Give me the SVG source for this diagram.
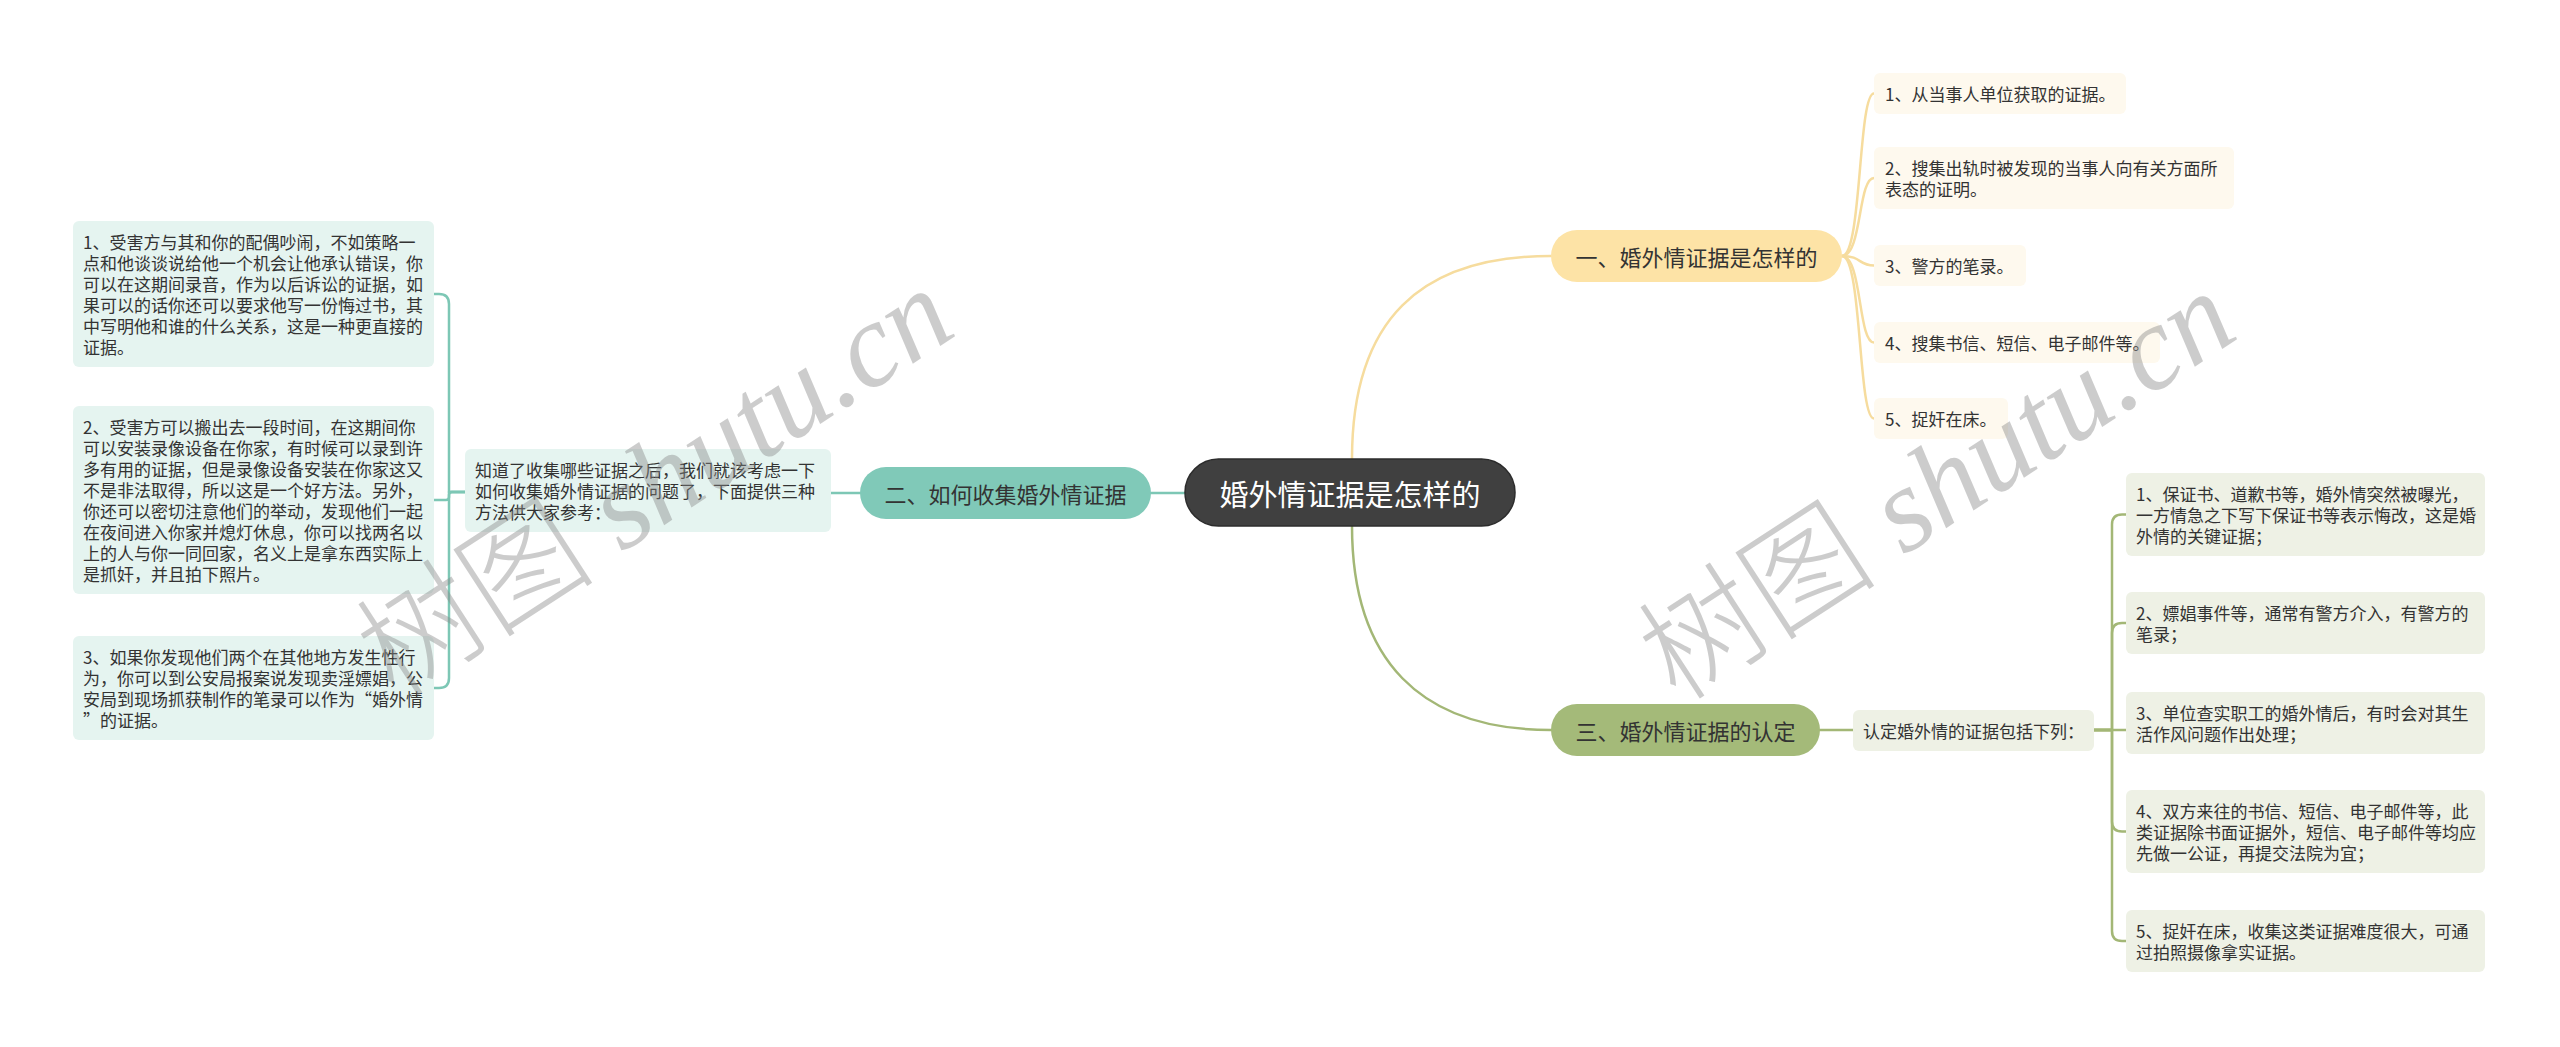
<svg xmlns="http://www.w3.org/2000/svg" width="2560" height="1047" viewBox="0 0 2560 1047">
<style>
.t{font-family:"Noto Sans CJK SC","Noto Sans",sans-serif;fill:#333;dominant-baseline:central}
.lf{font-size:17px}
.br{font-size:22px}
.ct{font-size:29px;fill:#fff}
.c{fill:none;stroke-linecap:round;stroke-linejoin:round}
.cy{stroke:#f6dc9e;stroke-width:2.5}
.cg{stroke:#a3b776;stroke-width:2.5}
.ctl{stroke:#7dc7b5;stroke-width:2.5}
.ny{fill:#fde3a6}
.ng{fill:#a4ba79}
.nt{fill:#80c9b8}
.ly{fill:#fef9ee}
.lt{fill:#e5f4f0}
.lg{fill:#eef1e5}
.wm{fill:#888;opacity:0.42;font-size:120px}
</style>
<rect width="2560" height="1047" fill="#fff"/>
<g id="connectors">
<path class="c cy" d="M1352 459 C1352 320 1420 256 1551 256"/>
<path class="c cg" d="M1352 526 C1352 660 1420 730 1551 730"/>
<path class="c ctl" d="M1185 493 H1151"/>
<path class="c ctl" d="M860 493 H831"/>
<path class="c ctl" d="M465 492 H449 V304 Q449 294 439 294 H434"/>
<path class="c ctl" d="M465 492 H452 Q449 492 449 495 V497 Q449 500 446 500 H434"/>
<path class="c ctl" d="M465 492 H449 V678 Q449 688 439 688 H434"/>
<path class="c cy" d="M1842 256 C1862 256 1858 93.5 1874 93.5"/>
<path class="c cy" d="M1842 256 C1862 256 1858 178 1874 178"/>
<path class="c cy" d="M1842 256 C1862 256 1858 265.5 1874 265.5"/>
<path class="c cy" d="M1842 256 C1862 256 1858 342.5 1874 342.5"/>
<path class="c cy" d="M1842 256 C1862 256 1858 418.5 1874 418.5"/>
<path class="c cg" d="M1820 730 H1853"/>
<path class="c cg" d="M2094 730 H2112 V524.5 Q2112 514.5 2122 514.5 H2126"/>
<path class="c cg" d="M2094 730 H2112 V633 Q2112 623 2122 623 H2126"/>
<path class="c cg" d="M2094 730 H2126"/>
<path class="c cg" d="M2094 730 H2112 V821.5 Q2112 831.5 2122 831.5 H2126"/>
<path class="c cg" d="M2094 730 H2112 V931 Q2112 941 2122 941 H2126"/>
</g>
<g id="center">
<rect x="1185" y="459" width="330" height="67" rx="33.5" fill="#404040" stroke="#2c2c2c" stroke-width="1.5"/>
<text class="t ct" x="1350" y="492.5" text-anchor="middle">婚外情证据是怎样的</text>
</g>
<g id="branch1">
<rect class="ny" x="1551" y="230" width="291" height="52" rx="26"/>
<text class="t br" x="1696.5" y="256" text-anchor="middle">一、婚外情证据是怎样的</text>
</g>
<g id="branch2">
<rect class="nt" x="860" y="467" width="291" height="52" rx="26"/>
<text class="t br" x="1005.5" y="493" text-anchor="middle">二、如何收集婚外情证据</text>
</g>
<g id="branch3">
<rect class="ng" x="1551" y="704" width="269" height="52" rx="26"/>
<text class="t br" x="1685.5" y="730" text-anchor="middle">三、婚外情证据的认定</text>
</g>
<g id="b1-1">
<rect class="ly" x="1874" y="73" width="252" height="41" rx="6"/>
<text class="t lf" x="1885" y="93.5">1、从当事人单位获取的证据。</text>
</g>
<g id="b1-2">
<rect class="ly" x="1874" y="147" width="360" height="62" rx="6"/>
<text class="t lf" x="1885" y="167.5">2、搜集出轨时被发现的当事人向有关方面所</text>
<text class="t lf" x="1885" y="188.5">表态的证明。</text>
</g>
<g id="b1-3">
<rect class="ly" x="1874" y="245" width="152" height="41" rx="6"/>
<text class="t lf" x="1885" y="265.5">3、警方的笔录。</text>
</g>
<g id="b1-4">
<rect class="ly" x="1874" y="322" width="286" height="41" rx="6"/>
<text class="t lf" x="1885" y="342.5">4、搜集书信、短信、电子邮件等。</text>
</g>
<g id="b1-5">
<rect class="ly" x="1874" y="398" width="134" height="41" rx="6"/>
<text class="t lf" x="1885" y="418.5">5、捉奸在床。</text>
</g>
<g id="b2-intro">
<rect class="lt" x="465" y="449" width="366" height="83" rx="6"/>
<text class="t lf" x="475" y="469.5">知道了收集哪些证据之后，我们就该考虑一下</text>
<text class="t lf" x="475" y="490.5">如何收集婚外情证据的问题了，下面提供三种</text>
<text class="t lf" x="475" y="511.5">方法供大家参考：</text>
</g>
<g id="l1">
<rect class="lt" x="73" y="221" width="361" height="146" rx="6"/>
<text class="t lf" x="83" y="241.5">1、受害方与其和你的配偶吵闹，不如策略一</text>
<text class="t lf" x="83" y="262.5">点和他谈谈说给他一个机会让他承认错误，你</text>
<text class="t lf" x="83" y="283.5">可以在这期间录音，作为以后诉讼的证据，如</text>
<text class="t lf" x="83" y="304.5">果可以的话你还可以要求他写一份悔过书，其</text>
<text class="t lf" x="83" y="325.5">中写明他和谁的什么关系，这是一种更直接的</text>
<text class="t lf" x="83" y="346.5">证据。</text>
</g>
<g id="l2">
<rect class="lt" x="73" y="406" width="361" height="188" rx="6"/>
<text class="t lf" x="83" y="426.5">2、受害方可以搬出去一段时间，在这期间你</text>
<text class="t lf" x="83" y="447.5">可以安装录像设备在你家，有时候可以录到许</text>
<text class="t lf" x="83" y="468.5">多有用的证据，但是录像设备安装在你家这又</text>
<text class="t lf" x="83" y="489.5">不是非法取得，所以这是一个好方法。另外，</text>
<text class="t lf" x="83" y="510.5">你还可以密切注意他们的举动，发现他们一起</text>
<text class="t lf" x="83" y="531.5">在夜间进入你家并熄灯休息，你可以找两名以</text>
<text class="t lf" x="83" y="552.5">上的人与你一同回家，名义上是拿东西实际上</text>
<text class="t lf" x="83" y="573.5">是抓奸，并且拍下照片。</text>
</g>
<g id="l3">
<rect class="lt" x="73" y="636" width="361" height="104" rx="6"/>
<text class="t lf" x="83" y="656.5">3、如果你发现他们两个在其他地方发生性行</text>
<text class="t lf" x="83" y="677.5">为，你可以到公安局报案说发现卖淫嫖娼，公</text>
<text class="t lf" x="83" y="698.5">安局到现场抓获制作的笔录可以作为“婚外情</text>
<text class="t lf" x="83" y="719.5">”的证据。</text>
</g>
<g id="b3-intro">
<rect class="lg" x="1853" y="710" width="241" height="41" rx="6"/>
<text class="t lf" x="1863" y="730.5">认定婚外情的证据包括下列：</text>
</g>
<g id="g1">
<rect class="lg" x="2126" y="473" width="359" height="83" rx="6"/>
<text class="t lf" x="2136" y="493.5">1、保证书、道歉书等，婚外情突然被曝光，</text>
<text class="t lf" x="2136" y="514.5">一方情急之下写下保证书等表示悔改，这是婚</text>
<text class="t lf" x="2136" y="535.5">外情的关键证据；</text>
</g>
<g id="g2">
<rect class="lg" x="2126" y="592" width="359" height="62" rx="6"/>
<text class="t lf" x="2136" y="612.5">2、嫖娼事件等，通常有警方介入，有警方的</text>
<text class="t lf" x="2136" y="633.5">笔录；</text>
</g>
<g id="g3">
<rect class="lg" x="2126" y="692" width="359" height="62" rx="6"/>
<text class="t lf" x="2136" y="712.5">3、单位查实职工的婚外情后，有时会对其生</text>
<text class="t lf" x="2136" y="733.5">活作风问题作出处理；</text>
</g>
<g id="g4">
<rect class="lg" x="2126" y="790" width="359" height="83" rx="6"/>
<text class="t lf" x="2136" y="810.5">4、双方来往的书信、短信、电子邮件等，此</text>
<text class="t lf" x="2136" y="831.5">类证据除书面证据外，短信、电子邮件等均应</text>
<text class="t lf" x="2136" y="852.5">先做一公证，再提交法院为宜；</text>
</g>
<g id="g5">
<rect class="lg" x="2126" y="910" width="359" height="62" rx="6"/>
<text class="t lf" x="2136" y="930.5">5、捉奸在床，收集这类证据难度很大，可通</text>
<text class="t lf" x="2136" y="951.5">过拍照摄像拿实证据。</text>
</g>
<g id="watermarks">
<text class="wm" transform="translate(395 700) rotate(-33)"><tspan font-family="'Noto Sans CJK SC',sans-serif" font-weight="300">树图</tspan><tspan font-family="'Liberation Serif',serif" font-style="italic"> shutu.cn</tspan></text>
<text class="wm" transform="translate(1677 703) rotate(-33)"><tspan font-family="'Noto Sans CJK SC',sans-serif" font-weight="300">树图</tspan><tspan font-family="'Liberation Serif',serif" font-style="italic"> shutu.cn</tspan></text>
</g>
</svg>
